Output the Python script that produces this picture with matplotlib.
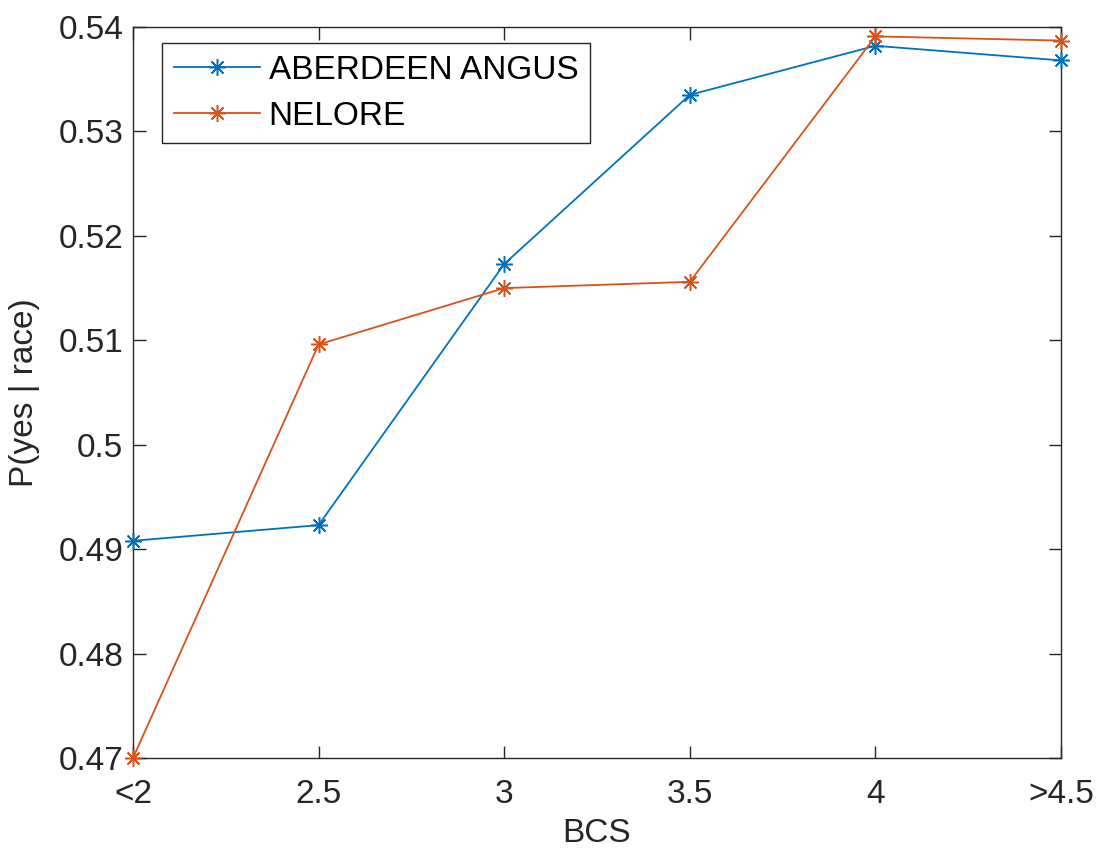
import matplotlib
matplotlib.use("Agg")
import matplotlib.pyplot as plt

categories = ["<2", "2.5", "3", "3.5", "4", ">4.5"]
angus = [0.4908, 0.4923, 0.5173, 0.5335, 0.5382, 0.5368]
nelore = [0.4700, 0.5096, 0.5150, 0.5156, 0.5391, 0.5387]
yticks = [0.47, 0.48, 0.49, 0.5, 0.51, 0.52, 0.53, 0.54]
ytick_labels = ["0.47", "0.48", "0.49", "0.5", "0.51", "0.52", "0.53", "0.54"]

plt.rcParams['font.family'] = ['Liberation Sans', 'DejaVu Sans']

W, H = 1099, 852
fig = plt.figure(figsize=(W / 100, H / 100), dpi=100)
ax = fig.add_axes([133 / W, 1 - 758 / H, (1061 - 133) / W, (758 - 27) / H])
x = list(range(len(categories)))
asterisk = (8, 2, 0)
ax.plot(x, angus, color='#0072BD', marker=asterisk, markersize=12, markeredgewidth=1.1,
        linewidth=1.3, label='ABERDEEN ANGUS', clip_on=False, zorder=3)
ax.plot(x, nelore, color='#D95319', marker=asterisk, markersize=12, markeredgewidth=1.1,
        linewidth=1.3, label='NELORE', clip_on=False, zorder=3)
ax.set_xlim(0, len(categories) - 1)
ax.set_ylim(0.47, 0.54)
ax.set_xticks(x)
ax.set_xticklabels(categories)
ax.set_yticks(yticks)
ax.set_yticklabels(ytick_labels)
ax.tick_params(direction='in', top=True, right=True, labelsize=24, length=9,
               width=1, colors='#262626')
ax.tick_params(axis='x', pad=15)
ax.tick_params(axis='y', pad=7)
for s in ax.spines.values():
    s.set_color('#262626')
    s.set_linewidth(1)
ax.set_xlabel('BCS', fontsize=24, color='#262626', labelpad=6)
ax.set_ylabel('P(yes | race)', fontsize=24, color='#262626', labelpad=13)
leg = ax.legend(loc='upper left', bbox_to_anchor=(162 / W, 1 - 43 / H),
                bbox_transform=fig.transFigure, fontsize=24, frameon=True,
                fancybox=False, edgecolor='#262626', framealpha=1, borderaxespad=0,
                handlelength=2.6, handletextpad=0.25, labelspacing=0.45,
                borderpad=0.35)
leg.get_frame().set_linewidth(1)
fig.savefig('out.png', dpi=100)
